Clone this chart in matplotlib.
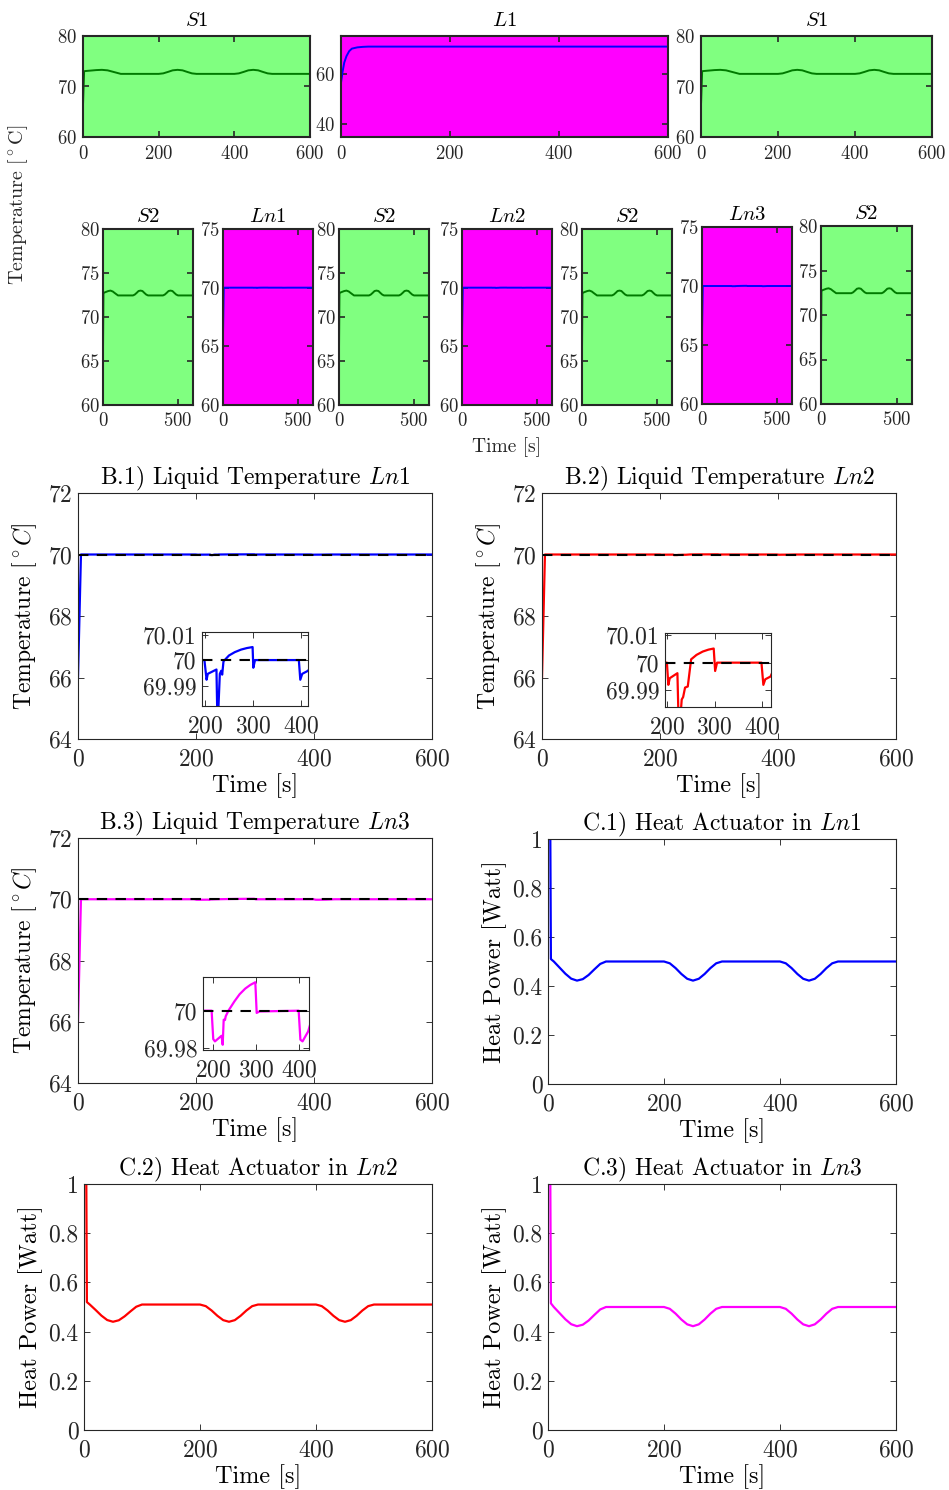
import matplotlib
matplotlib.use("Agg")
import matplotlib.pyplot as plt

plt.rcParams['font.family'] = 'serif'
plt.rcParams['font.serif'] = ['cmr10']
plt.rcParams['mathtext.fontset'] = 'cm'
plt.rcParams['axes.formatter.use_mathtext'] = True
plt.rcParams['axes.unicode_minus'] = False

W, H = 949, 1490

# ---- data -------------------------------------------------------------
# solid (S1 / S2) temperatures
t_s = [0, 3, 5, 20, 35, 50, 65, 80, 100, 200, 212, 225, 237, 250, 263, 275, 288, 300,
       400, 412, 425, 437, 450, 463, 475, 488, 500, 600]
temp_s1 = [66.4, 73.0, 73.05, 73.15, 73.25, 73.3, 73.2, 72.9, 72.5, 72.5, 72.6, 72.9, 73.2, 73.3,
           73.2, 72.9, 72.6, 72.5, 72.5, 72.6, 72.9, 73.2, 73.3, 73.2, 72.9, 72.6, 72.5, 72.5]
temp_s2 = [66.3, 72.7, 72.75, 72.85, 72.95, 73.0, 72.9, 72.7, 72.45, 72.45, 72.55, 72.75, 72.95, 73.0,
           72.95, 72.75, 72.55, 72.45, 72.45, 72.55, 72.75, 72.95, 73.0, 72.95, 72.75, 72.55, 72.45, 72.45]

# main liquid L1
t_l1 = [0, 3, 6, 10, 15, 20, 30, 40, 50, 600]
temp_l1 = [56.5, 61.0, 64.5, 67.0, 69.0, 70.0, 70.5, 70.7, 70.8, 70.8]

# liquid nodes Ln1..Ln3
t_ln1 = [0, 5, 199, 203.5, 206, 224, 225.5, 228, 231, 233.8, 235.9, 238.6, 250, 262, 275, 287, 299,
         300.5, 304, 395, 398, 402, 414, 430, 600]
temp_ln1 = [66.0, 70.0, 70.0, 69.9923, 69.9946, 69.9963, 69.981, 69.981, 69.9946, 69.9958, 69.9943,
            69.9995, 70.0018, 70.0031, 70.0041, 70.0047, 70.0051, 69.997, 70.0, 70.0, 69.9923, 69.9946,
            69.9958, 70.0, 70.0]

t_ln2 = [0, 5, 200, 203, 206, 222, 224, 229, 231, 234, 238, 243.7, 250.7, 262, 275, 287, 298,
         301, 305, 398, 402, 406, 417, 430, 600]
temp_ln2 = [66.0, 70.0, 70.0, 69.992, 69.9944, 69.9962, 69.982, 69.982, 69.9867, 69.9876, 69.991,
            69.9914, 70.0012, 70.0028, 70.004, 70.0047, 70.0051, 69.997, 70.0, 70.0, 69.992, 69.994,
            69.995, 70.0, 70.0]

t_ln3 = [0, 5, 197, 200.8, 204.7, 220, 222.7, 225, 228, 229.7, 236, 250, 262, 275, 287, 298.4,
         301.6, 308, 399, 403, 408, 421, 435, 600]
temp_ln3 = [66.0, 70.0, 70.0, 69.9848, 69.9836, 69.9866, 69.9818, 69.9952, 69.995, 69.997, 70.0,
            70.005, 70.0088, 70.0118, 70.0138, 70.0152, 69.9988, 69.9996, 70.0, 69.9845, 69.9836,
            69.9889, 70.0, 70.0]

# heat actuator power
t_q = [0, 4, 5, 10, 20, 30, 40, 50, 60, 70, 80, 90, 100, 200, 210, 220, 230, 240, 250, 260, 270,
       280, 290, 300, 400, 410, 420, 430, 440, 450, 460, 470, 480, 490, 500, 600]
q_ln1 = [1.0, 1.0, 0.51, 0.50, 0.475, 0.45, 0.43, 0.422, 0.428, 0.445, 0.468, 0.49, 0.50, 0.50,
         0.4926, 0.473, 0.449, 0.4295, 0.422, 0.4295, 0.449, 0.473, 0.4926, 0.50, 0.50, 0.4926,
         0.473, 0.449, 0.4295, 0.422, 0.4295, 0.449, 0.473, 0.4926, 0.50, 0.50]
q_ln2 = [1.0, 1.0, 0.52, 0.51, 0.488, 0.465, 0.447, 0.44, 0.446, 0.462, 0.482, 0.501, 0.51, 0.51,
         0.5035, 0.4858, 0.4642, 0.4466, 0.44, 0.4466, 0.4642, 0.4858, 0.5035, 0.51, 0.51, 0.5035,
         0.4858, 0.4642, 0.4466, 0.44, 0.4466, 0.4642, 0.4858, 0.5035, 0.51, 0.51]
q_ln3 = [1.0, 1.0, 0.515, 0.50, 0.475, 0.45, 0.43, 0.422, 0.428, 0.445, 0.468, 0.49, 0.50, 0.50,
         0.4926, 0.473, 0.449, 0.4295, 0.422, 0.4295, 0.449, 0.473, 0.4926, 0.50, 0.50, 0.4926,
         0.473, 0.449, 0.4295, 0.422, 0.4295, 0.449, 0.473, 0.4926, 0.50, 0.50]

setpoint = 70

GREEN_BG = '#80ff80'
MAGENTA = '#ff00ff'
DARK = '#262626'

fig = plt.figure(figsize=(W / 100, H / 100), dpi=100)


def box(l, t, r, b):
    # pixel box -> figure fraction
    return [l / W, 1 - b / H, (r - l) / W, (b - t) / H]


def style(ax, fs, lw, pad=5):
    ax.tick_params(direction='in', top=True, right=True, labelsize=fs, colors=DARK,
                   length=4, width=lw * 0.8)
    ax.tick_params(axis='x', pad=pad)
    ax.tick_params(axis='y', pad=4)
    for sp in ax.spines.values():
        sp.set_linewidth(lw)
        sp.set_color(DARK)


# ---- top row: S1 | L1 | S1 -------------------------------------------
for (l, r), kind in zip([(83, 310), (341, 668), (701, 932)], ['S', 'L', 'S']):
    ax = fig.add_axes(box(l, 36, r, 137))
    if kind == 'S':
        ax.set_facecolor(GREEN_BG)
        ax.plot(t_s, temp_s1, color='#007a00', lw=1.4)
        ax.set_ylim(60, 80)
        ax.set_yticks([60, 70, 80])
        ax.set_title('$S1$', fontsize=15, pad=7)
    else:
        ax.set_facecolor(MAGENTA)
        ax.plot(t_l1, temp_l1, color='blue', lw=1.4)
        ax.set_ylim(35, 75)
        ax.set_yticks([40, 60])
        ax.set_title('$L1$', fontsize=15, pad=7)
    ax.set_xlim(0, 600)
    ax.set_xticks([0, 200, 400, 600])
    style(ax, 13.5, 1.5, pad=6)

# ---- second row: S2 / Ln alternating ----------------------------------
row2 = [(103, 229, 193, 405, 'S2', None),
        (223, 229, 313, 405, 'Ln1', temp_ln1),
        (339, 229, 429, 405, 'S2', None),
        (462, 229, 552, 405, 'Ln2', temp_ln2),
        (582, 229, 672, 405, 'S2', None),
        (702, 227, 792, 404, 'Ln3', temp_ln3),
        (821, 226, 912, 404, 'S2', None)]
t_ln = {'Ln1': t_ln1, 'Ln2': t_ln2, 'Ln3': t_ln3}
for l, t, r, b, name, vals in row2:
    ax = fig.add_axes(box(l, t, r, b))
    if vals is None:
        ax.set_facecolor(GREEN_BG)
        ax.plot(t_s, temp_s2, color='#007a00', lw=1.4)
        ax.set_ylim(60, 80)
        ax.set_yticks([60, 65, 70, 75, 80])
    else:
        ax.set_facecolor(MAGENTA)
        ax.plot(t_ln[name], vals, color='blue', lw=1.4)
        ax.set_ylim(60, 75)
        ax.set_yticks([60, 65, 70, 75])
    ax.set_title('$' + name + '$', fontsize=15, pad=5)
    ax.set_xlim(0, 600)
    ax.set_xticks([0, 500])
    style(ax, 13.5, 1.5, pad=5)
    ax.tick_params(axis='y', pad=2)

fig.text(18 / W, 1 - 205 / H, r'Temperature $[^\circ\mathrm{C}]$', rotation=90, fontsize=14.5,
         ha='center', va='center', color=DARK)
fig.text(507 / W, 1 - 447 / H, 'Time [s]', fontsize=14, ha='center', va='center', color=DARK)

# ---- liquid temperature panels with zoomed insets --------------------
temp_panels = [
    ((78, 493, 432, 739), (202, 632, 308, 706), 'B.1', 'Ln1', t_ln1, temp_ln1, 'blue',
     (194, 414), (69.982, 70.011), [69.99, 70, 70.01], ['69.99', '70', '70.01']),
    ((542, 493, 896, 739), (665, 633, 771, 707), 'B.2', 'Ln2', t_ln2, temp_ln2, 'red',
     (196, 418), (69.984, 70.0107), [69.99, 70, 70.01], ['69.99', '70', '70.01']),
    ((78, 838, 432, 1083), (203, 977, 309, 1050), 'B.3', 'Ln3', t_ln3, temp_ln3, MAGENTA,
     (177, 423), (69.979, 70.018), [69.98, 70], ['69.98', '70']),
]
for main_box, ins_box, tag, node, tt, vv, col, ixl, iyl, iyt, iytl in temp_panels:
    ax = fig.add_axes(box(*main_box))
    ax.plot(tt, vv, color=col, lw=1.6)
    ax.axhline(setpoint, color='black', ls=(0, (5, 4)), lw=1.5)
    ax.set_xlim(0, 600)
    ax.set_ylim(64, 72)
    ax.set_xticks([0, 200, 400, 600])
    ax.set_yticks([64, 66, 68, 70, 72])
    ax.set_title(tag + ') Liquid Temperature $' + node + '$', fontsize=17, pad=6)
    ax.set_xlabel('Time [s]', fontsize=17.5, labelpad=2)
    ax.set_ylabel(r'Temperature $[^\circ C]$', fontsize=17, labelpad=6)
    style(ax, 17, 0.8, pad=7)

    ins = fig.add_axes(box(*ins_box))
    ins.plot(tt, vv, color=col, lw=1.6)
    ins.axhline(setpoint, color='black', ls=(0, (5, 4)), lw=1.5)
    ins.set_xlim(*ixl)
    ins.set_ylim(*iyl)
    ins.set_xticks([200, 300, 400])
    ins.set_yticks(iyt)
    ins.set_yticklabels(iytl)
    style(ins, 17, 0.8, pad=7)

# ---- heat actuator panels ----------------------------------------------
heat_panels = [
    ((548, 839, 896, 1084), 'C.1', 'Ln1', q_ln1, 'blue'),
    ((84, 1184, 432, 1430), 'C.2', 'Ln2', q_ln2, 'red'),
    ((548, 1184, 896, 1430), 'C.3', 'Ln3', q_ln3, MAGENTA),
]
for pbox, tag, node, q, col in heat_panels:
    ax = fig.add_axes(box(*pbox))
    ax.plot(t_q, q, color=col, lw=1.6)
    ax.set_xlim(0, 600)
    ax.set_ylim(0, 1)
    ax.set_xticks([0, 200, 400, 600])
    ax.set_yticks([0, 0.2, 0.4, 0.6, 0.8, 1])
    ax.set_yticklabels(['0', '0.2', '0.4', '0.6', '0.8', '1'])
    ax.set_title(tag + ') Heat Actuator in $' + node + '$', fontsize=17, pad=6)
    ax.set_xlabel('Time [s]', fontsize=17.5, labelpad=2)
    ax.set_ylabel('Heat Power [Watt]', fontsize=17.5, labelpad=4)
    style(ax, 17, 0.8, pad=7)

fig.savefig('out.png', dpi=100)
